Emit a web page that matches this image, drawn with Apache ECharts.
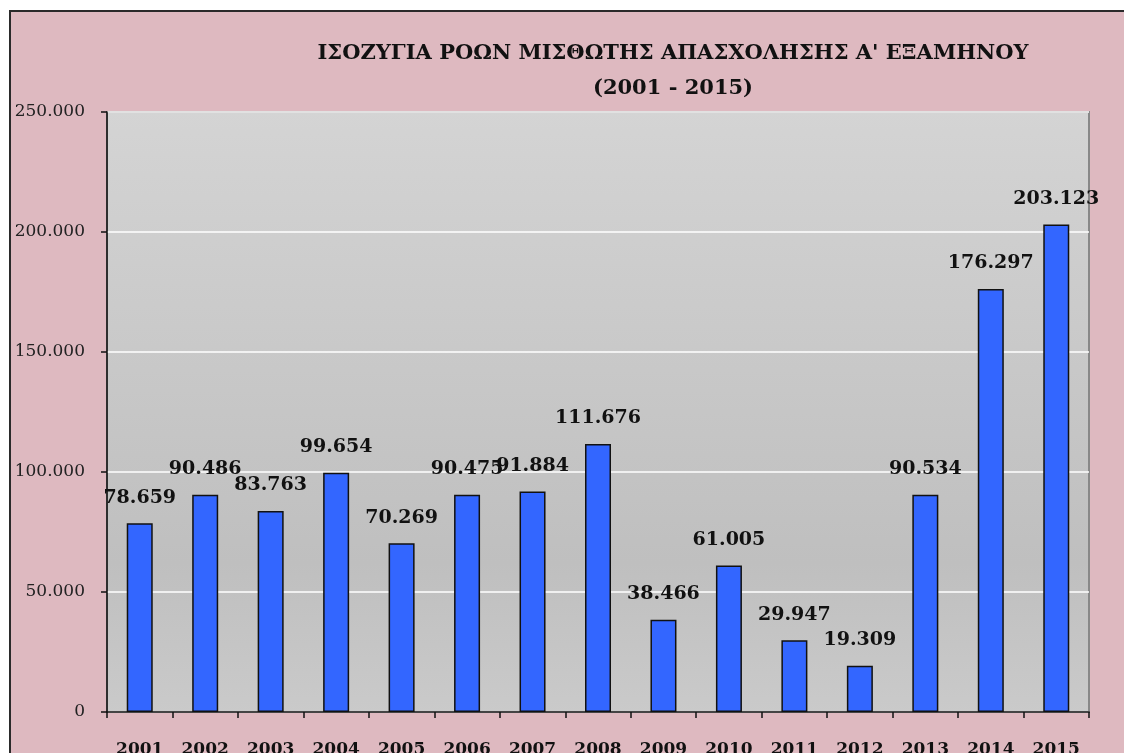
<!DOCTYPE html>
<html>
<head>
<meta charset="utf-8">
<script src="https://cdn.jsdelivr.net/npm/echarts@6/dist/echarts.min.js"></script>
<style>
  html, body { margin: 0; padding: 0; background: #fff; }
  .frame {
    position: absolute; left: 9px; top: 10px; width: 1130px; height: 760px;
    background-color: #deb9c0; border-left: 2px solid #2a2a2a; border-top: 2px solid #2a2a2a;
  }
  #chart { position: absolute; left: 0; top: 0; width: 1124px; height: 753px; }
</style>
</head>
<body>
<div class="frame"></div>
<div id="chart"></div>
<script>
var years = ['2001', '2002', '2003', '2004', '2005', '2006', '2007', '2008',
             '2009', '2010', '2011', '2012', '2013', '2014', '2015']
var balance = [78659, 90486, 83763, 99654, 70269, 90475, 91884, 111676,
               38466, 61005, 29947, 19309, 90534, 176297, 203123]
var titleLines = ['ΙΣΟΖΥΓΙΑ ΡΟΩΝ ΜΙΣΘΩΤΗΣ ΑΠΑΣΧΟΛΗΣΗΣ Α\' ΕΞΑΜΗΝΟΥ', '(2001 - 2015)']

// greek style thousands: 78.659
function fmt (v) {
  return String(v).replace(/\B(?=(\d{3})+(?!\d))/g, '.')
}

var chart = echarts.init(document.getElementById('chart'))
var option = {
  backgroundColor: 'transparent',
  animation: false,
  title: {
    text: titleLines.join('\n'),
    left: 668,
    top: 31,
    textAlign: 'center',
    textStyle: {
      fontFamily: 'DejaVu Serif',
      fontWeight: 'bold',
      fontSize: 21,
      lineHeight: 35,
      color: '#111'
    }
  },
  grid: {
    left: 107,
    right: 35,
    top: 112,
    bottom: 41,
    outerBoundsMode: 'none',
    containLabel: false,
    show: true,
    borderColor: '#888888',
    borderWidth: 2,
    backgroundColor: new echarts.graphic.LinearGradient(0, 0, 0, 1, [
      { offset: 0, color: '#d4d4d4' },
      { offset: 0.75, color: '#bfbfbf' },
      { offset: 1, color: '#cacaca' }
    ])
  },
  xAxis: {
    type: 'category',
    data: years,
    axisLine: { lineStyle: { color: '#111', width: 1.5 } },
    axisTick: { show: true, length: 6, lineStyle: { color: '#111', width: 1.5 } },
    axisLabel: {
      margin: 29,
      fontFamily: 'DejaVu Serif',
      fontWeight: 'bold',
      fontSize: 17,
      color: '#111'
    }
  },
  yAxis: {
    type: 'value',
    min: 0,
    max: 250000,
    interval: 50000,
    axisLine: { show: true, lineStyle: { color: '#111', width: 1.5 } },
    axisTick: { show: true, length: 6, lineStyle: { color: '#111', width: 1.5 } },
    axisLabel: {
      margin: 22,
      fontFamily: 'DejaVu Serif',
      fontSize: 17,
      color: '#222',
      formatter: fmt
    },
    splitLine: { lineStyle: { color: '#ffffff', width: 1.5 } }
  },
  series: [
    {
      type: 'bar',
      data: balance,
      barWidth: 26,
      itemStyle: {
        color: '#3366ff',
        borderColor: '#111',
        borderWidth: 1.5
      },
      label: {
        show: true,
        position: 'top',
        distance: 16,
        fontFamily: 'DejaVu Serif',
        fontWeight: 'bold',
        fontSize: 19,
        color: '#111',
        formatter: function (p) { return fmt(p.value) }
      }
    }
  ]
}
chart.setOption(option)
</script>
</body>
</html>
